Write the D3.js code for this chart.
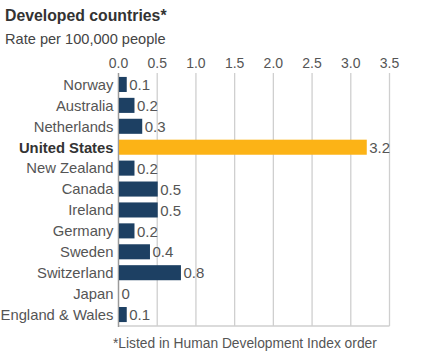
<!DOCTYPE html>
<html>
<head>
<meta charset="utf-8">
<script src="https://cdn.jsdelivr.net/npm/d3@7"></script>
<style>
  body { margin: 0; background: #fff; }
  svg text { font-family: "Liberation Sans", Arial, Helvetica, sans-serif; }
</style>
</head>
<body>
<div id="chart"></div>
<script>
const countries = ["Norway", "Australia", "Netherlands", "United States", "New Zealand", "Canada",
  "Ireland", "Germany", "Sweden", "Switzerland", "Japan", "England & Wales"];
const rates = [0.1, 0.2, 0.3, 3.2, 0.2, 0.5, 0.5, 0.2, 0.4, 0.8, 0, 0.1];
const ticks = [0, 0.5, 1.0, 1.5, 2.0, 2.5, 3.0, 3.5];
const highlight = "United States";

const width = 421, height = 352;
const svg = d3.select("#chart").append("svg")
  .attr("width", width).attr("height", height);

const x = d3.scaleLinear().domain([0, 3.5]).range([118.5, 389.5]);
const y = d3.scaleBand().domain(countries).range([74, 325]).paddingInner(0.28).paddingOuter(0.14);

// title block
svg.append("text").attr("x", 5).attr("y", 21)
  .style("font-size", "15.8px").style("font-weight", "bold").attr("fill", "#333")
  .text("Developed countries*");
svg.append("text").attr("x", 5).attr("y", 44)
  .style("font-size", "14.6px").attr("fill", "#444")
  .text("Rate per 100,000 people");

// gridlines
svg.append("g").selectAll("line").data(ticks.slice(1)).join("line")
  .attr("x1", d => x(d)).attr("x2", d => x(d))
  .attr("y1", 73).attr("y2", 326)
  .attr("stroke", "#cfcfcf").attr("stroke-width", 1.3);
svg.append("line").attr("x1", x(0)).attr("x2", x(3.5)).attr("y1", 326).attr("y2", 326)
  .attr("stroke", "#cfcfcf").attr("stroke-width", 1.3);
svg.append("line").attr("x1", x(0)).attr("x2", x(0)).attr("y1", 73).attr("y2", 327)
  .attr("stroke", "#9a9a9a").attr("stroke-width", 1.5);

// tick labels
svg.append("g").selectAll("text").data(ticks).join("text")
  .attr("x", d => x(d)).attr("y", 68)
  .attr("text-anchor", "middle")
  .style("font-size", "14px").attr("fill", "#555")
  .text(d => d3.format(".1f")(d));

// bars
svg.append("g").selectAll("rect").data(countries).join("rect")
  .attr("x", x(0) + 0.5)
  .attr("y", d => y(d))
  .attr("width", (d, i) => Math.max(0, x(rates[i]) - x(0)))
  .attr("height", y.bandwidth())
  .attr("fill", d => d === highlight ? "#fcb316" : "#1d4063");

// category labels
svg.append("g").selectAll("text").data(countries).join("text")
  .attr("x", 113.5)
  .attr("y", d => y(d) + y.bandwidth() / 2)
  .attr("dy", "0.36em")
  .attr("text-anchor", "end")
  .style("font-size", "14.8px")
  .style("font-weight", d => d === highlight ? "bold" : "normal")
  .attr("fill", d => d === highlight ? "#333" : "#555")
  .text(d => d);

// value labels
svg.append("g").selectAll("text").data(countries).join("text")
  .attr("x", (d, i) => x(rates[i]) + 3)
  .attr("y", d => y(d) + y.bandwidth() / 2)
  .attr("dy", "0.38em")
  .style("font-size", "15px").attr("fill", "#555")
  .text((d, i) => rates[i]);

// footnote
svg.append("text").attr("x", 113).attr("y", 348)
  .style("font-size", "13.8px").attr("fill", "#555")
  .text("*Listed in Human Development Index order");
</script>
</body>
</html>
